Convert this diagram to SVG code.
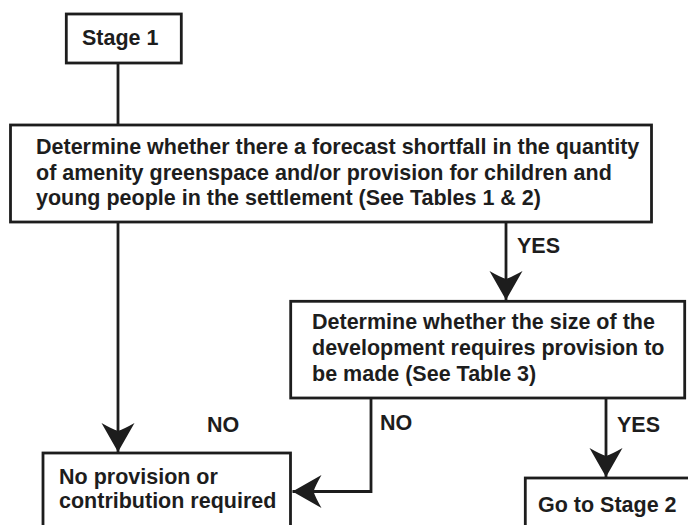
<svg xmlns="http://www.w3.org/2000/svg" width="688" height="525" viewBox="0 0 688 525">
<defs>
<style>
.box{fill:#ffffff;stroke:#1d1d1d;stroke-width:2.8}
.t{font-family:"Liberation Sans",Arial,Helvetica,sans-serif;font-weight:bold;font-size:21.5px;fill:#1d1d1d}
.c{fill:none;stroke:#1d1d1d;stroke-width:2.8}
</style>
<marker id="ah" markerUnits="userSpaceOnUse" markerWidth="40" markerHeight="40" viewBox="-32 -20 34 40" refX="0" refY="0" orient="auto">
<path d="M0,0 L-29,-16.5 Q-23,-6 -21,0 Q-23,6 -29,16.5 Z" fill="#1d1d1d"/>
</marker>
</defs>
<rect width="688" height="525" fill="#ffffff"/>
<g id="connectors">
<path class="c" d="M118,63 V125"/>
<path class="c" d="M118,222 V452" marker-end="url(#ah)"/>
<path class="c" d="M506,222 V300" marker-end="url(#ah)"/>
<path class="c" d="M371,398 V491.5 H292.5" marker-end="url(#ah)"/>
<path class="c" d="M606,398 V477" marker-end="url(#ah)"/>
<text class="t" x="517" y="253">YES</text>
<text class="t" x="207" y="432">NO</text>
<text class="t" x="380" y="430">NO</text>
<text class="t" x="617" y="432">YES</text>
</g>
<g id="stage1">
<rect class="box" x="66.3" y="14" width="115" height="49"/>
<text class="t" x="82" y="45">Stage 1</text>
</g>
<g id="shortfall">
<rect class="box" x="10.5" y="125" width="641" height="97"/>
<text class="t" x="36" y="154">Determine whether there a forecast shortfall in the quantity</text>
<text class="t" x="36" y="180">of amenity greenspace and/or provision for children and</text>
<text class="t" x="36" y="205">young people in the settlement (See Tables 1 &amp; 2)</text>
</g>
<g id="size">
<rect class="box" x="290.7" y="301.3" width="394" height="96.7"/>
<text class="t" x="312" y="329">Determine whether the size of the</text>
<text class="t" x="312" y="355">development requires provision to</text>
<text class="t" x="312" y="381">be made (See Table 3)</text>
</g>
<g id="noprovision">
<rect class="box" x="43" y="453" width="247.5" height="90"/>
<text class="t" x="59" y="484">No provision or</text>
<text class="t" x="59" y="508">contribution required</text>
</g>
<g id="stage2">
<rect class="box" x="525.3" y="478" width="200" height="80"/>
<text class="t" x="538" y="512">Go to Stage 2</text>
</g>
</svg>
